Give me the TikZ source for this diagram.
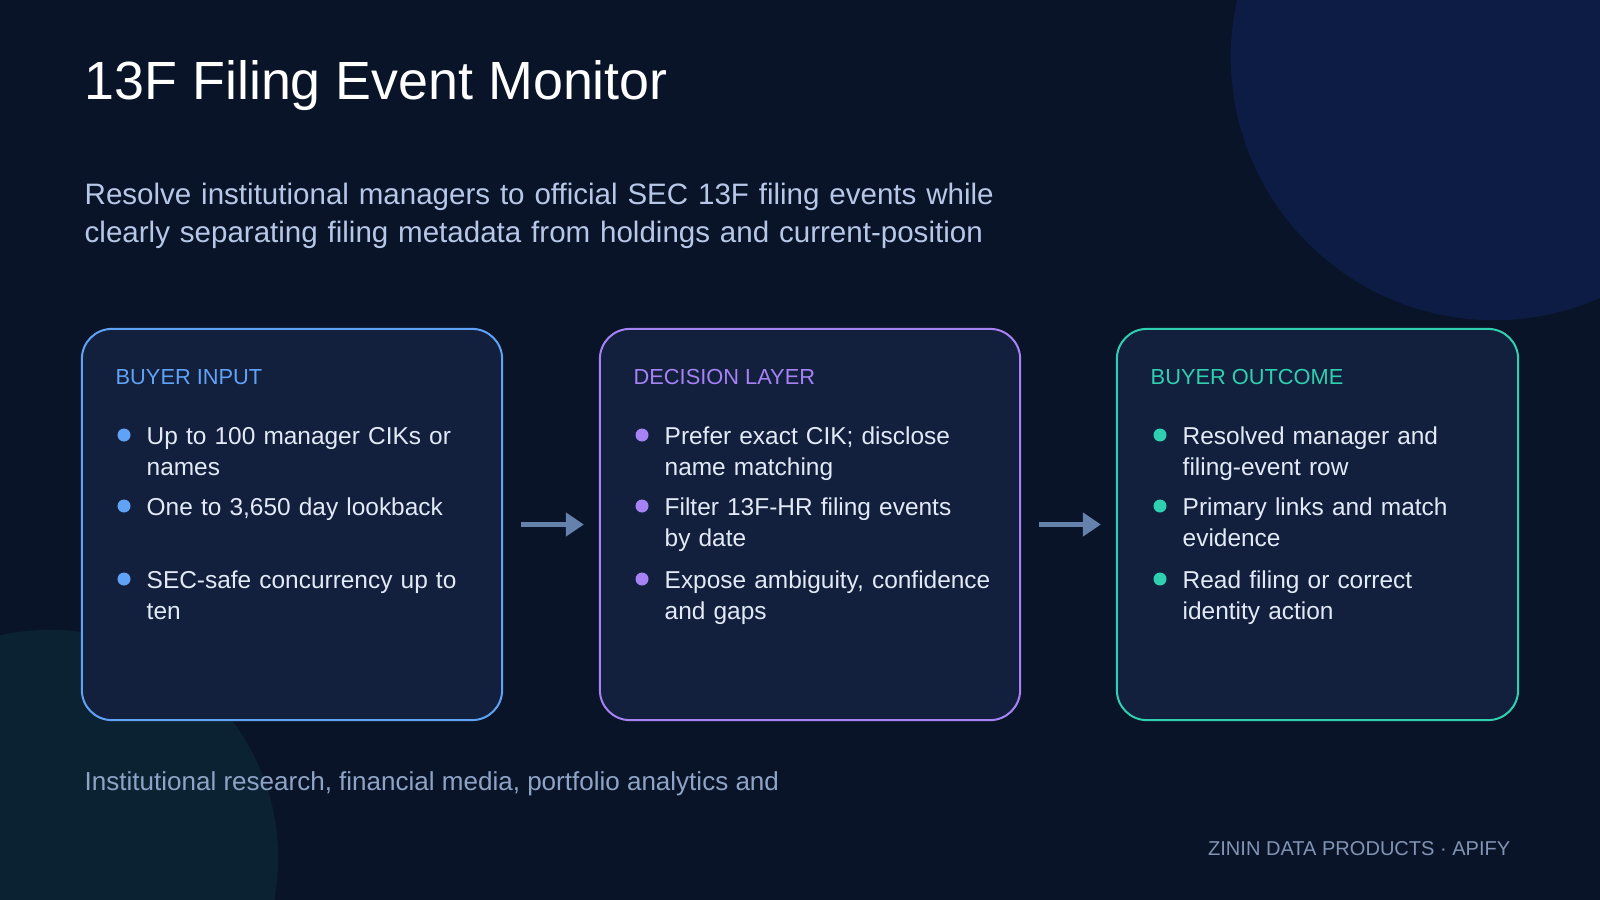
\documentclass[tikz,border=0pt]{standalone}
\usepackage{fontspec}
\setmainfont{Liberation Sans}
\usepackage{xcolor}
\usepackage{tikz}
\usetikzlibrary{arrows.meta, positioning}

\definecolor{bgnavy}{HTML}{0A1428}
\definecolor{glowblue}{HTML}{0D1C44}
\definecolor{glowteal}{HTML}{0B2233}
\definecolor{cardfill}{HTML}{12203D}
\definecolor{inputblue}{HTML}{60A2F6}
\definecolor{decisionviolet}{HTML}{A682F5}
\definecolor{outcometeal}{HTML}{2FD0B0}
\definecolor{ink}{HTML}{E3EAF7}
\definecolor{subtext}{HTML}{B7C7E8}
\definecolor{notegrey}{HTML}{8EA4C6}
\definecolor{brandgrey}{HTML}{8194B4}
\definecolor{flowgrey}{HTML}{6482AC}

\begin{document}
\begin{tikzpicture}[
    x=0.01cm, y=-0.01cm,
    card/.style={draw, line width=0.02cm, rounded corners=0.3cm, fill=cardfill, minimum height=3.91cm, inner sep=0pt},
    head/.style={anchor=base west, inner sep=0pt, font=\fontsize{6.2}{7.5}\selectfont},
    item/.style={anchor=base west, inner sep=0pt, align=left, text width=3.6cm, text=ink, font=\fontsize{6.95}{9.0}\selectfont},
    dot/.style={circle, inner sep=0pt, minimum size=0.13cm},
    flow/.style={draw=flowgrey, line width=0.05cm, -{Triangle[length=0.18cm, width=0.23cm]}, shorten <=0.18cm, shorten >=0.15cm}
]
% backdrop
\useasboundingbox (0,0) rectangle (1600,900);
\clip (0,0) rectangle (1600,900);
\fill[bgnavy] (0,0) rectangle (1600,900);
\fill[glowblue] (1494,57) circle[radius=2.63cm];
\fill[glowteal] (50,858) circle[radius=2.28cm];

% headline
\node[anchor=base west, inner sep=0pt, text=white, font=\fontsize{15.3}{18}\selectfont] (title) at (84,100) {13F Filing Event Monitor};
\node[anchor=base west, inner sep=0pt, align=left, text width=10cm, text=subtext, font=\fontsize{8.4}{11}\selectfont] (subtitle) at (84,204)
    {Resolve institutional managers to official SEC 13F filing events while\\clearly separating filing metadata from holdings and current-position};

% cards
\node[card, draw=inputblue, minimum width=4.2cm] (input) at (292,524.5) {};
\node[card, draw=decisionviolet, minimum width=4.2cm] (decision) at (810,524.5) {};
\node[card, draw=outcometeal, minimum width=4.01cm] (outcome) at (1317.5,524.5) {};

\node[head, text=inputblue] (inputhead) at (115,384) {BUYER INPUT};
\foreach \y [count=\i] in {435,506,579}
    \node[dot, fill=inputblue] (inputdot\i) at (124,\y) {};
\node[item] (inputitem1) at (146,444) {Up to 100 manager CIKs or\\names};
\node[item] (inputitem2) at (146,515) {One to 3,650 day lookback};
\node[item] (inputitem3) at (146,588) {SEC-safe concurrency up to\\ten};

\node[head, text=decisionviolet] (decisionhead) at (633,384) {DECISION LAYER};
\foreach \y [count=\i] in {435,506,579}
    \node[dot, fill=decisionviolet] (decisiondot\i) at (642,\y) {};
\node[item] (decisionitem1) at (664,444) {Prefer exact CIK; disclose\\name matching};
\node[item] (decisionitem2) at (664,515) {Filter 13F-HR filing events\\by date};
\node[item] (decisionitem3) at (664,588) {Expose ambiguity, confidence\\and gaps};

\node[head, text=outcometeal] (outcomehead) at (1150,384) {BUYER OUTCOME};
\foreach \y [count=\i] in {435,506,579}
    \node[dot, fill=outcometeal] (outcomedot\i) at (1160,\y) {};
\node[item] (outcomeitem1) at (1182,444) {Resolved manager and\\filing-event row};
\node[item] (outcomeitem2) at (1182,515) {Primary links and match\\evidence};
\node[item] (outcomeitem3) at (1182,588) {Read filing or correct\\identity action};

\draw[flow] (input) -- (decision);
\draw[flow] (decision) -- (outcome);

% footer
\node[anchor=base west, inner sep=0pt, text=notegrey, font=\fontsize{7.4}{9}\selectfont] (audience) at (84,790)
    {Institutional research, financial media, portfolio analytics and};
\node[anchor=base east, inner sep=0pt, text=brandgrey, font=\fontsize{5.7}{7}\selectfont] (brand) at (1511,855)
    {ZININ DATA PRODUCTS · APIFY};
\end{tikzpicture}
\end{document}
